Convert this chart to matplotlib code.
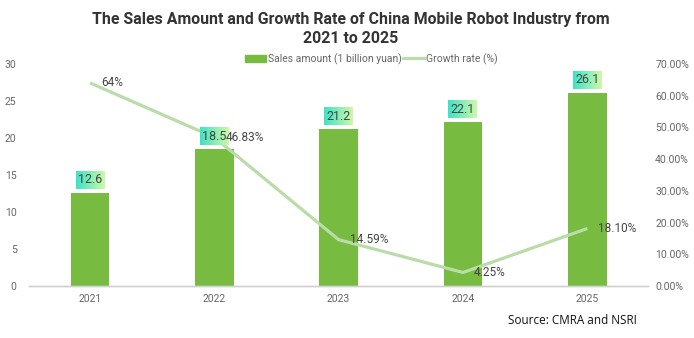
import numpy as np
import matplotlib.pyplot as plt
from matplotlib.lines import Line2D
from matplotlib.patches import Patch

years = ["2021", "2022", "2023", "2024", "2025"]
sales = [12.6, 18.5, 21.2, 22.1, 26.1]           # 1 billion yuan
growth = [64.0, 46.83, 14.59, 4.25, 18.10]        # %
growth_labels = ["64%", "46.83%", "14.59%", "4.25%", "18.10%"]
left_ticks = [0, 5, 10, 15, 20, 25, 30]
right_ticks = [0, 10, 20, 30, 40, 50, 60, 70]

bar_color = "#77bb41"
line_color = "#b9dca8"
text_color = "#444444"
tick_color = "#666666"

plt.rcParams["font.family"] = ["Roboto", "DejaVu Sans"]

fig = plt.figure(figsize=(6.94, 3.38), dpi=100)
ax = fig.add_axes([0.042, 0.154, 0.892, 0.657])
ax2 = ax.twinx()

x = np.arange(len(years))
ax.bar(x, sales, width=0.31, color=bar_color, zorder=2)

ax.set_xlim(-0.49, len(years) - 0.51)
ax.set_ylim(0, 30)
ax.set_yticks(left_ticks)
ax.set_xticks(x)
ax.set_xticklabels(years)
ax.tick_params(axis="y", length=0, pad=9, labelsize=7.5, labelcolor=tick_color)
ax.tick_params(axis="x", length=0, pad=6, labelsize=7.5, labelcolor=tick_color)

ax2.plot(x, growth, color=line_color, lw=2.3, zorder=3, solid_capstyle="butt")
ax2.set_ylim(0, 70)
ax2.set_yticks(right_ticks)
ax2.set_yticklabels([f"{t:.2f}%" for t in right_ticks])
ax2.tick_params(axis="y", length=0, pad=5, labelsize=7.5, labelcolor=tick_color)

for a in (ax, ax2):
    for side in ("top", "left", "right"):
        a.spines[side].set_visible(False)
    a.spines["bottom"].set_color("#d0d0d0")
    a.spines["bottom"].set_linewidth(1.0)

for xi, g, lab in zip(x, growth, growth_labels):
    ax2.annotate(lab, (xi, g), xytext=(8, 0), textcoords="offset points",
                 ha="left", va="center", fontsize=8.5, color=text_color, zorder=6)

# gradient label boxes above the bars, sized in pixels
fig.canvas.draw()
grad = np.linspace(0, 1, 64).reshape(1, -1)
c0 = np.array([0x3d, 0xe3, 0xc6]) / 255
c1 = np.array([0xcf, 0xf8, 0xa8]) / 255
img = (c0[None, None, :] * (1 - grad[..., None]) + c1[None, None, :] * grad[..., None])
inv2 = ax2.transData.inverted()
box_w, box_h, gap = 29, 18, 4
for xi, v in zip(x, sales):
    px, py = ax.transData.transform((xi, v))
    x0, y0 = inv2.transform((px - box_w / 2, py + gap))
    x1, y1 = inv2.transform((px + box_w / 2, py + gap + box_h))
    ax2.imshow(img, extent=(x0, x1, y0, y1), aspect="auto", zorder=4, interpolation="bilinear")
    ax2.text((x0 + x1) / 2, (y0 + y1) / 2, f"{v:g}", ha="center", va="center",
             fontsize=9, color=text_color, zorder=5)
ax2.set_xlim(-0.49, len(years) - 0.51)
ax2.set_ylim(0, 70)

fig.text(0.505, 0.914, "The Sales Amount and Growth Rate of China Mobile Robot Industry from\n2021 to 2025",
         ha="center", va="center", fontsize=11.4, fontweight="bold", color="#333333",
         linespacing=1.3)

handles = [Patch(color=bar_color), Line2D([0], [0], color=line_color, lw=2.3)]
fig.legend(handles, ["Sales amount (1 billion yuan)", "Growth rate (%)"],
           loc="center", bbox_to_anchor=(0.535, 0.826), ncol=2, frameon=False,
           fontsize=7.5, labelcolor=tick_color, handlelength=2.0, handleheight=0.7,
           handletextpad=0.2, columnspacing=0.1)

fig.text(0.918, 0.052, "Source: CMRA and NSRI", ha="right", va="center",
         fontsize=8.5, color="#111111", family=["Open Sans", "DejaVu Sans"])

fig.savefig("out.png", dpi=100)
